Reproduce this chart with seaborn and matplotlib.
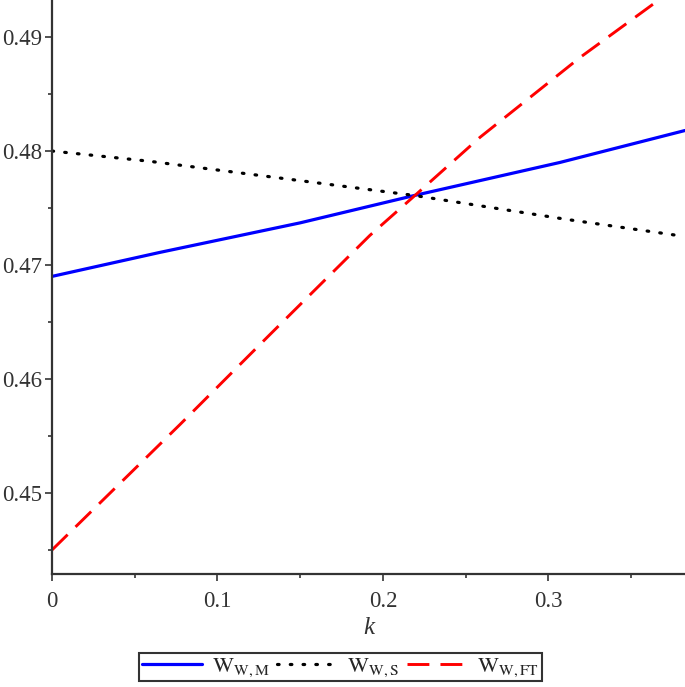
import numpy as np
import pandas as pd
import seaborn as sns
import matplotlib
matplotlib.use("Agg")
from matplotlib import pyplot as plt
from matplotlib.ticker import MultipleLocator

# values
k_m = [0.0, 0.065, 0.15, 0.219, 0.307, 0.3825]
w_m = [0.4690, 0.4711, 0.4737, 0.4761, 0.4790, 0.4818]

k_s = [0.0, 0.059, 0.15, 0.219, 0.311, 0.3825]
w_s = [0.4800, 0.4791, 0.4774, 0.4761, 0.4740, 0.4725]

k_ft = [0.0, 0.0773, 0.1317, 0.1921, 0.2193, 0.2586, 0.319, 0.3662, 0.3825]
w_ft = [0.4450, 0.4560, 0.4639, 0.4726, 0.4761, 0.4812, 0.4882, 0.4932, 0.4950]

labels = [r"$\mathrm{W}_{\mathrm{W,M}}$", r"$\mathrm{W}_{\mathrm{W,S}}$", r"$\mathrm{W}_{\mathrm{W,FT}}$"]

sns.set_style("ticks")
plt.rcParams["font.family"] = ["Liberation Serif", "DejaVu Serif"]
plt.rcParams["mathtext.fontset"] = "stix"

fig = plt.figure(figsize=(6.85, 6.87), dpi=100)
ax = fig.add_axes([52 / 685, 1 - 574 / 687, 1 - 52 / 685, 574 / 687])

df_m = pd.DataFrame({"k": k_m, "W": w_m})
df_s = pd.DataFrame({"k": k_s, "W": w_s})
df_ft = pd.DataFrame({"k": k_ft, "W": w_ft})

sns.lineplot(data=df_m, x="k", y="W", ax=ax, color="#0000ff", lw=2.3,
             label=labels[0])
sns.lineplot(data=df_s, x="k", y="W", ax=ax, color="black", lw=2.3,
             linestyle=(0, (0.5, 3.5)), dash_capstyle="round", label=labels[1])
sns.lineplot(data=df_ft, x="k", y="W", ax=ax, color="#ff0000", lw=2.1,
             linestyle=(0, (7.5, 3.8)), label=labels[2])

ax.set_xlim(0, 0.3825)
ax.set_ylim(0.44289, 0.49325)
ax.xaxis.set_minor_locator(MultipleLocator(0.05))
ax.yaxis.set_minor_locator(MultipleLocator(0.005))
ax.set_xticks([0, 0.1, 0.2, 0.3])
ax.set_xticklabels(["0", "0.1", "0.2", "0.3"])
ax.set_yticks([0.45, 0.46, 0.47, 0.48, 0.49])
ax.set_yticklabels(["0.45", "0.46", "0.47", "0.48", "0.49"])

ax.tick_params(which="major", length=5, width=1.2, labelsize=16.5, color="#333333",
               labelcolor="#333333", pad=2)
ax.tick_params(which="minor", length=3, width=1.2, color="#333333")
ax.tick_params(axis="x", which="major", pad=7)

sns.despine(ax=ax)
for s in ["left", "bottom"]:
    ax.spines[s].set_linewidth(1.6)
    ax.spines[s].set_color("#333333")

ax.set_xlabel("k", fontsize=18, style="italic", color="#333333", labelpad=4)
ax.set_ylabel("")

ax.legend_.remove()
handles, labs = ax.get_legend_handles_labels()
leg = fig.legend(handles, labs, loc="lower center", bbox_to_anchor=(0.497, 0.0),
                 ncol=3, fontsize=16, frameon=True, fancybox=False,
                 edgecolor="black", handlelength=2.7, handletextpad=0.45,
                 columnspacing=0.35, borderpad=0.12, borderaxespad=0.25)
leg.get_frame().set_linewidth(1.5)

fig.savefig("out.png", dpi=100)
